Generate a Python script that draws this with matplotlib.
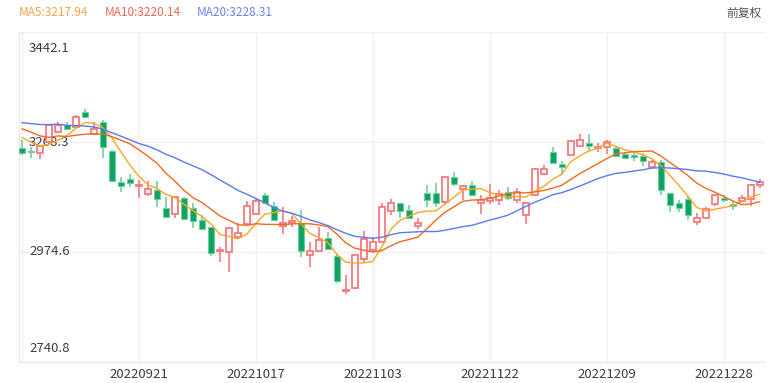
"""
Shanghai composite daily candles with MA5 / MA10 / MA20
"""

import matplotlib

matplotlib.use("Agg")
import matplotlib.pyplot as plt
import pandas as pd
from matplotlib.patches import Rectangle

plt.rcParams["font.family"] = ["Noto Sans CJK SC", "DejaVu Sans"]

# trading days shown on the category axis
dates = [
    "20220901", "20220902", "20220905", "20220906", "20220907", "20220908", "20220909",
    "20220913", "20220914", "20220915", "20220916", "20220919", "20220920", "20220921",
    "20220922", "20220923", "20220926", "20220927", "20220928", "20220929", "20220930",
    "20221010", "20221011", "20221012", "20221013", "20221014", "20221017", "20221018",
    "20221019", "20221020", "20221021", "20221024", "20221025", "20221026", "20221027",
    "20221028", "20221031", "20221101", "20221102", "20221103", "20221104", "20221107",
    "20221108", "20221109", "20221110", "20221111", "20221114", "20221115", "20221116",
    "20221117", "20221118", "20221121", "20221122", "20221123", "20221124", "20221125",
    "20221128", "20221129", "20221130", "20221201", "20221202", "20221205", "20221206",
    "20221207", "20221208", "20221209", "20221212", "20221213", "20221214", "20221215",
    "20221216", "20221219", "20221220", "20221221", "20221222", "20221223", "20221226",
    "20221227", "20221228", "20221229", "20221230", "20230103", "20230104",
]

open_ = [
    3196.2, 3189.2, 3184.3, 3207.7, 3230.2, 3245.1, 3240.8, 3272.7, 3224.7, 3250.2,
    3189.8, 3123.3, 3129.1, 3115.5, 3097.2, 3106.3, 3067.4, 3054.7, 3088.7, 3067.4,
    3042.6, 3027.0, 2976.0, 2975.2, 3007.1, 3034.1, 3054.7, 3095.7, 3072.3, 3029.8,
    3036.8, 3035.5, 2968.2, 2976.7, 3004.9, 2966.1, 2891.0, 2898.7, 2959.0, 2978.8,
    2995.8, 3061.7, 3078.0, 3063.8, 3029.8, 3099.3, 3100.6, 3080.2, 3133.3, 3107.8,
    3117.0, 3078.0, 3082.9, 3085.1, 3102.7, 3085.1, 3053.2, 3095.7, 3140.3, 3187.7,
    3161.6, 3180.7, 3200.5, 3205.6, 3195.6, 3198.3, 3196.2, 3182.2, 3180.7, 3178.6,
    3155.8, 3166.5, 3099.3, 3078.0, 3086.5, 3038.9, 3046.2, 3075.9, 3088.7, 3076.6,
    3083.6, 3086.5, 3116.9,
]
high = [
    3212.6, 3198.4, 3202.0, 3246.6, 3251.5, 3251.5, 3265.7, 3278.5, 3250.2, 3255.1,
    3191.3, 3134.6, 3139.7, 3127.6, 3125.5, 3125.5, 3090.8, 3093.6, 3091.4, 3078.0,
    3053.2, 3028.3, 2985.8, 3024.9, 3035.5, 3083.6, 3088.7, 3100.6, 3081.5, 3069.5,
    3051.7, 3063.8, 2996.4, 3028.3, 3017.7, 2971.8, 2925.7, 2967.5, 3019.2, 3005.8,
    3079.3, 3086.5, 3078.0, 3074.4, 3046.2, 3116.9, 3120.6, 3134.6, 3145.2, 3114.8,
    3126.1, 3095.7, 3118.4, 3106.3, 3113.3, 3109.9, 3078.0, 3150.3, 3159.4, 3197.1,
    3168.0, 3212.6, 3224.7, 3224.7, 3205.6, 3212.6, 3198.3, 3187.7, 3187.7, 3184.3,
    3170.1, 3170.1, 3100.6, 3085.1, 3093.6, 3056.8, 3070.8, 3097.8, 3095.7, 3082.9,
    3095.7, 3116.3, 3129.7,
]
low = [
    3180.7, 3173.7, 3171.6, 3205.0, 3226.8, 3233.8, 3237.4, 3260.8, 3223.2, 3173.7,
    3123.9, 3101.4, 3113.3, 3089.9, 3093.6, 3070.8, 3048.3, 3047.4, 3044.1, 3024.9,
    3021.3, 2966.7, 2952.7, 2932.7, 3003.7, 3032.6, 3053.2, 3076.6, 3041.1, 3012.2,
    3027.0, 2964.6, 2943.3, 2975.2, 2978.8, 2908.0, 2885.3, 2895.3, 2953.9, 2975.2,
    2994.3, 3053.2, 3046.2, 3044.7, 3023.4, 3069.5, 3069.5, 3074.4, 3114.8, 3085.1,
    3094.2, 3055.3, 3076.6, 3074.4, 3085.1, 3078.0, 3034.1, 3093.6, 3138.2, 3163.1,
    3138.2, 3179.2, 3197.1, 3189.8, 3187.7, 3182.2, 3177.1, 3171.6, 3167.9, 3158.0,
    3152.4, 3095.7, 3060.2, 3060.2, 3042.6, 3031.9, 3044.7, 3073.0, 3081.5, 3063.8,
    3081.5, 3072.3, 3109.9,
]
close = [
    3184.3, 3186.4, 3199.8, 3243.8, 3245.1, 3235.3, 3262.1, 3262.1, 3236.6, 3198.3,
    3125.4, 3114.2, 3121.2, 3117.6, 3108.4, 3086.6, 3049.6, 3092.1, 3044.1, 3041.1,
    3022.8, 2971.8, 2978.8, 3024.9, 3015.6, 3072.3, 3082.9, 3079.3, 3042.6, 3035.5,
    3039.8, 2976.0, 2976.0, 3000.1, 2980.9, 2913.6, 2893.8, 2967.5, 3001.5, 2996.4,
    3069.5, 3078.0, 3062.3, 3046.2, 3036.2, 3085.1, 3079.3, 3133.3, 3118.4, 3114.8,
    3095.7, 3085.1, 3090.0, 3097.2, 3088.7, 3102.7, 3078.0, 3150.3, 3150.9, 3164.3,
    3155.8, 3211.1, 3212.6, 3199.8, 3198.3, 3207.7, 3178.6, 3175.0, 3175.8, 3167.9,
    3166.5, 3106.3, 3074.4, 3067.4, 3053.2, 3046.2, 3065.3, 3095.1, 3085.1, 3072.3,
    3088.7, 3116.3, 3124.0,
]
# closes of the 19 sessions before the window, needed to warm up the averages
prior_close = [
    3227.0, 3236.9, 3247.4, 3230.0, 3281.7, 3276.9, 3276.1, 3277.9, 3292.5, 3277.5,
    3258.1, 3277.8, 3276.2, 3215.2, 3246.3, 3236.2, 3240.7, 3227.2, 3202.1,
]

y_ticks = [3442.1, 3208.3, 2974.6, 2740.8]
legend_text = ["MA5:3217.94", "MA10:3220.14", "MA20:3228.31"]

UP = "#f47a80"
DOWN = "#0fa362"
DOWN_WICK = "#6fcf9f"
MA_COLORS = ["#f9a825", "#f26a1e", "#5a7af2"]
LEGEND_COLORS = ["#f5a54a", "#f2654e", "#6f7ff2"]
TEXT = "#3d3d3d"
GRID = "#f0f0f0"

n = len(dates)
all_close = pd.Series(prior_close + close)
ma = {w: all_close.rolling(w).mean().iloc[len(prior_close):].values for w in (5, 10, 20)}

fig = plt.figure(figsize=(7.77, 3.83), dpi=100)
ax = fig.add_axes([19 / 777, 1 - 362 / 383, 745 / 777, 330 / 383])
ax.set_xlim(-0.33, n - 1 + 0.48)
ax.set_ylim(y_ticks[-1], y_ticks[0])

# grid
for v in y_ticks:
    ax.axhline(v, color=GRID, lw=1, zorder=0, clip_on=False)
for i in range(0, n, 13):
    ax.axvline(i, color=GRID, lw=1, zorder=0)

# candles
body_w = 0.64
for i in range(n):
    o, h, l, c = open_[i], high[i], low[i], close[i]
    if c >= o:
        ax.vlines(i, l, h, color=UP, lw=1.2, zorder=2)
        ax.add_patch(Rectangle((i - body_w / 2, o), body_w, max(c - o, 0.6),
                               facecolor="white", edgecolor=UP, lw=1.3, zorder=3))
    else:
        ax.vlines(i, l, h, color=DOWN_WICK, lw=1.2, zorder=2)
        ax.add_patch(Rectangle((i - body_w / 2, c), body_w, o - c,
                               facecolor=DOWN, edgecolor=DOWN_WICK, lw=0.8, zorder=3))

# moving averages
for (w, vals), col in zip(ma.items(), MA_COLORS):
    ax.plot(range(n), vals, color=col, lw=1.0, zorder=4)

# axes styling
for side in ("top", "right"):
    ax.spines[side].set_visible(False)
for side in ("left", "bottom"):
    ax.spines[side].set_color("#e8e8e8")
ax.set_yticks([])
ticks = list(range(13, n, 13))
ax.set_xticks(ticks)
ax.set_xticklabels([dates[i] for i in ticks], fontsize=9.5, color=TEXT)
ax.tick_params(axis="x", length=0, pad=4)

# y labels drawn inside the plot, under the candles
offsets = [-16, 0, 0, 14]
for v, dy in zip(y_ticks, offsets):
    ax.annotate(f"{v:.1f}", xy=(0.0135, v), xycoords=("axes fraction", "data"),
                xytext=(0, dy * 0.72), textcoords="offset points",
                ha="left", va="center", fontsize=9.5, color=TEXT, zorder=1)

# legend row on top
for x, txt, col in zip([19, 105, 197], legend_text, LEGEND_COLORS):
    fig.text(x / 777, 1 - 13 / 383, txt, fontsize=8.5, color=col, ha="left", va="center")
fig.text(762 / 777, 1 - 13 / 383, "前复权", fontsize=8.5, color="#555555", ha="right", va="center")

fig.savefig("out.png", dpi=100)
plt.close(fig)
